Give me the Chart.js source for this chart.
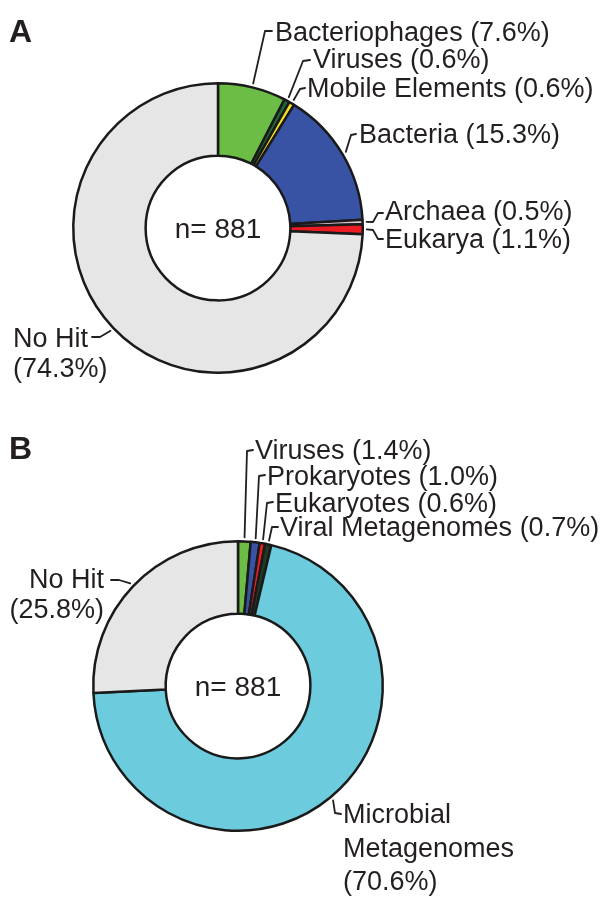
<!DOCTYPE html>
<html>
<head>
<meta charset="utf-8">
<script src="https://cdn.jsdelivr.net/npm/chart.js@4/dist/chart.umd.min.js"></script>
<style>
  html, body { margin: 0; padding: 0; background: #fff; }
  canvas { position: absolute; left: 0; top: 0; display: block; }
</style>
</head>
<body>
<canvas id="chartA" width="600" height="907"></canvas>
<canvas id="chartB" width="600" height="907"></canvas>
<script>
// ---- data ----
const categoriesA = ['Bacteriophages', 'Viruses', 'Mobile Elements', 'Bacteria', 'Archaea', 'Eukarya', 'No Hit'];
const valuesA = [7.6, 0.6, 0.6, 15.3, 0.5, 1.1, 74.3];
const colorsA = ['#6cbd45', '#1f6a38', '#f3e41c', '#3953a4', '#dcc3d3', '#ed1c24', '#e6e6e6'];
const totalA = 881;

const categoriesB = ['Viruses', 'Prokaryotes', 'Eukaryotes', 'Viral Metagenomes', 'Microbial Metagenomes', 'No Hit'];
const valuesB = [1.4, 1.0, 0.6, 0.7, 70.6, 25.8];
const colorsB = ['#6cbd45', '#3953a4', '#ed1c24', '#1c3d24', '#6ccbdc', '#e6e6e6'];
const totalB = 881;

// ---- label layout (page coordinates) ----
const layoutA = [
  { x: 275, y: 41, pts: [[265, 31], [272, 31]] },
  { x: 313, y: 68, pts: [[303, 61], [310, 60]] },
  { x: 307, y: 97, pts: [[300, 89], [305, 88]] },
  { x: 359, y: 143, pts: [[351, 135], [356, 134]] },
  { x: 385, y: 220, pts: [[373, 222], [378, 213], [383, 213]] },
  { x: 385, y: 248, pts: [[373, 230], [378, 239], [383, 239]] },
  { x: 13, y: 347, lh: 30, split: 'name', pts: [[100, 337], [92, 337]] }
];
const layoutB = [
  { x: 255, y: 459, pts: [[247, 451], [253, 450]] },
  { x: 267, y: 485, pts: [[259, 476], [265, 475]] },
  { x: 275, y: 512, pts: [[267, 503], [273, 502]] },
  { x: 280, y: 536, pts: [[272, 527], [278, 527]] },
  { x: 343, y: 823, lh: 33.5, split: 'words', pts: [[335, 813], [341, 814]] },
  { x: 104, y: 588, lh: 30, align: 'right', split: 'name', pts: [[119, 580], [111, 580]] }
];

const TEXT = '#231f20';
const FONT = '27px "Liberation Sans", Arial, Helvetica, sans-serif';

function labelPlugin(id, letter, letterY, layout, cats, vals, total) {
  return {
    id: id,
    afterDraw(chart) {
      const ctx = chart.ctx;
      const meta = chart.getDatasetMeta(0);
      ctx.save();
      // panel letter
      ctx.fillStyle = TEXT;
      ctx.font = 'bold 32px "Liberation Sans", Arial, sans-serif';
      ctx.textAlign = 'left';
      ctx.textBaseline = 'alphabetic';
      ctx.fillText(letter, 9, letterY);
      // centre text
      const a0 = meta.data[0];
      ctx.font = '28px "Liberation Sans", Arial, sans-serif';
      ctx.textAlign = 'center';
      ctx.fillText('n= ' + total, a0.x, a0.y + 10);
      // labels and leaders
      ctx.strokeStyle = TEXT;
      ctx.lineWidth = 1.8;
      ctx.lineJoin = 'round';
      ctx.lineCap = 'round';
      layout.forEach((L, i) => {
        const arc = meta.data[i];
        const p = arc.getProps(['x', 'y', 'startAngle', 'endAngle', 'outerRadius'], true);
        const mid = (p.startAngle + p.endAngle) / 2;
        const r = p.outerRadius + 4;
        const sx = p.x + Math.cos(mid) * r;
        const sy = p.y + Math.sin(mid) * r;
        ctx.beginPath();
        ctx.moveTo(sx, sy);
        L.pts.forEach(q => ctx.lineTo(q[0], q[1]));
        ctx.stroke();
        const pct = '(' + vals[i].toFixed(1) + '%)';
        let lines;
        if (L.split === 'name') lines = [cats[i], pct];
        else if (L.split === 'words') lines = cats[i].split(' ').concat([pct]);
        else lines = [cats[i] + ' ' + pct];
        ctx.font = FONT;
        ctx.textAlign = L.align || 'left';
        ctx.fillStyle = TEXT;
        lines.forEach((t, k) => ctx.fillText(t, L.x, L.y + k * (L.lh || 0)));
      });
      ctx.restore();
    }
  };
}

function makeChart(canvasId, cats, vals, colors, padding, plugin) {
  return new Chart(document.getElementById(canvasId), {
    type: 'doughnut',
    data: {
      labels: cats,
      datasets: [{
        data: vals,
        backgroundColor: colors,
        borderColor: '#1a1a1a',
        borderWidth: 2.5
      }]
    },
    options: {
      responsive: false,
      animation: false,
      devicePixelRatio: 1,
      cutout: '50%',
      layout: { padding: padding },
      plugins: { legend: { display: false }, tooltip: { enabled: false } }
    },
    plugins: [plugin]
  });
}

makeChart('chartA', categoriesA, valuesA, colorsA,
  { left: 72, top: 82, right: 236, bottom: 533 },
  labelPlugin('labelsA', 'A', 42, layoutA, categoriesA, valuesA, totalA));

makeChart('chartB', categoriesB, valuesB, colorsB,
  { left: 92, top: 540, right: 216, bottom: 75 },
  labelPlugin('labelsB', 'B', 459, layoutB, categoriesB, valuesB, totalB));
</script>
</body>
</html>
